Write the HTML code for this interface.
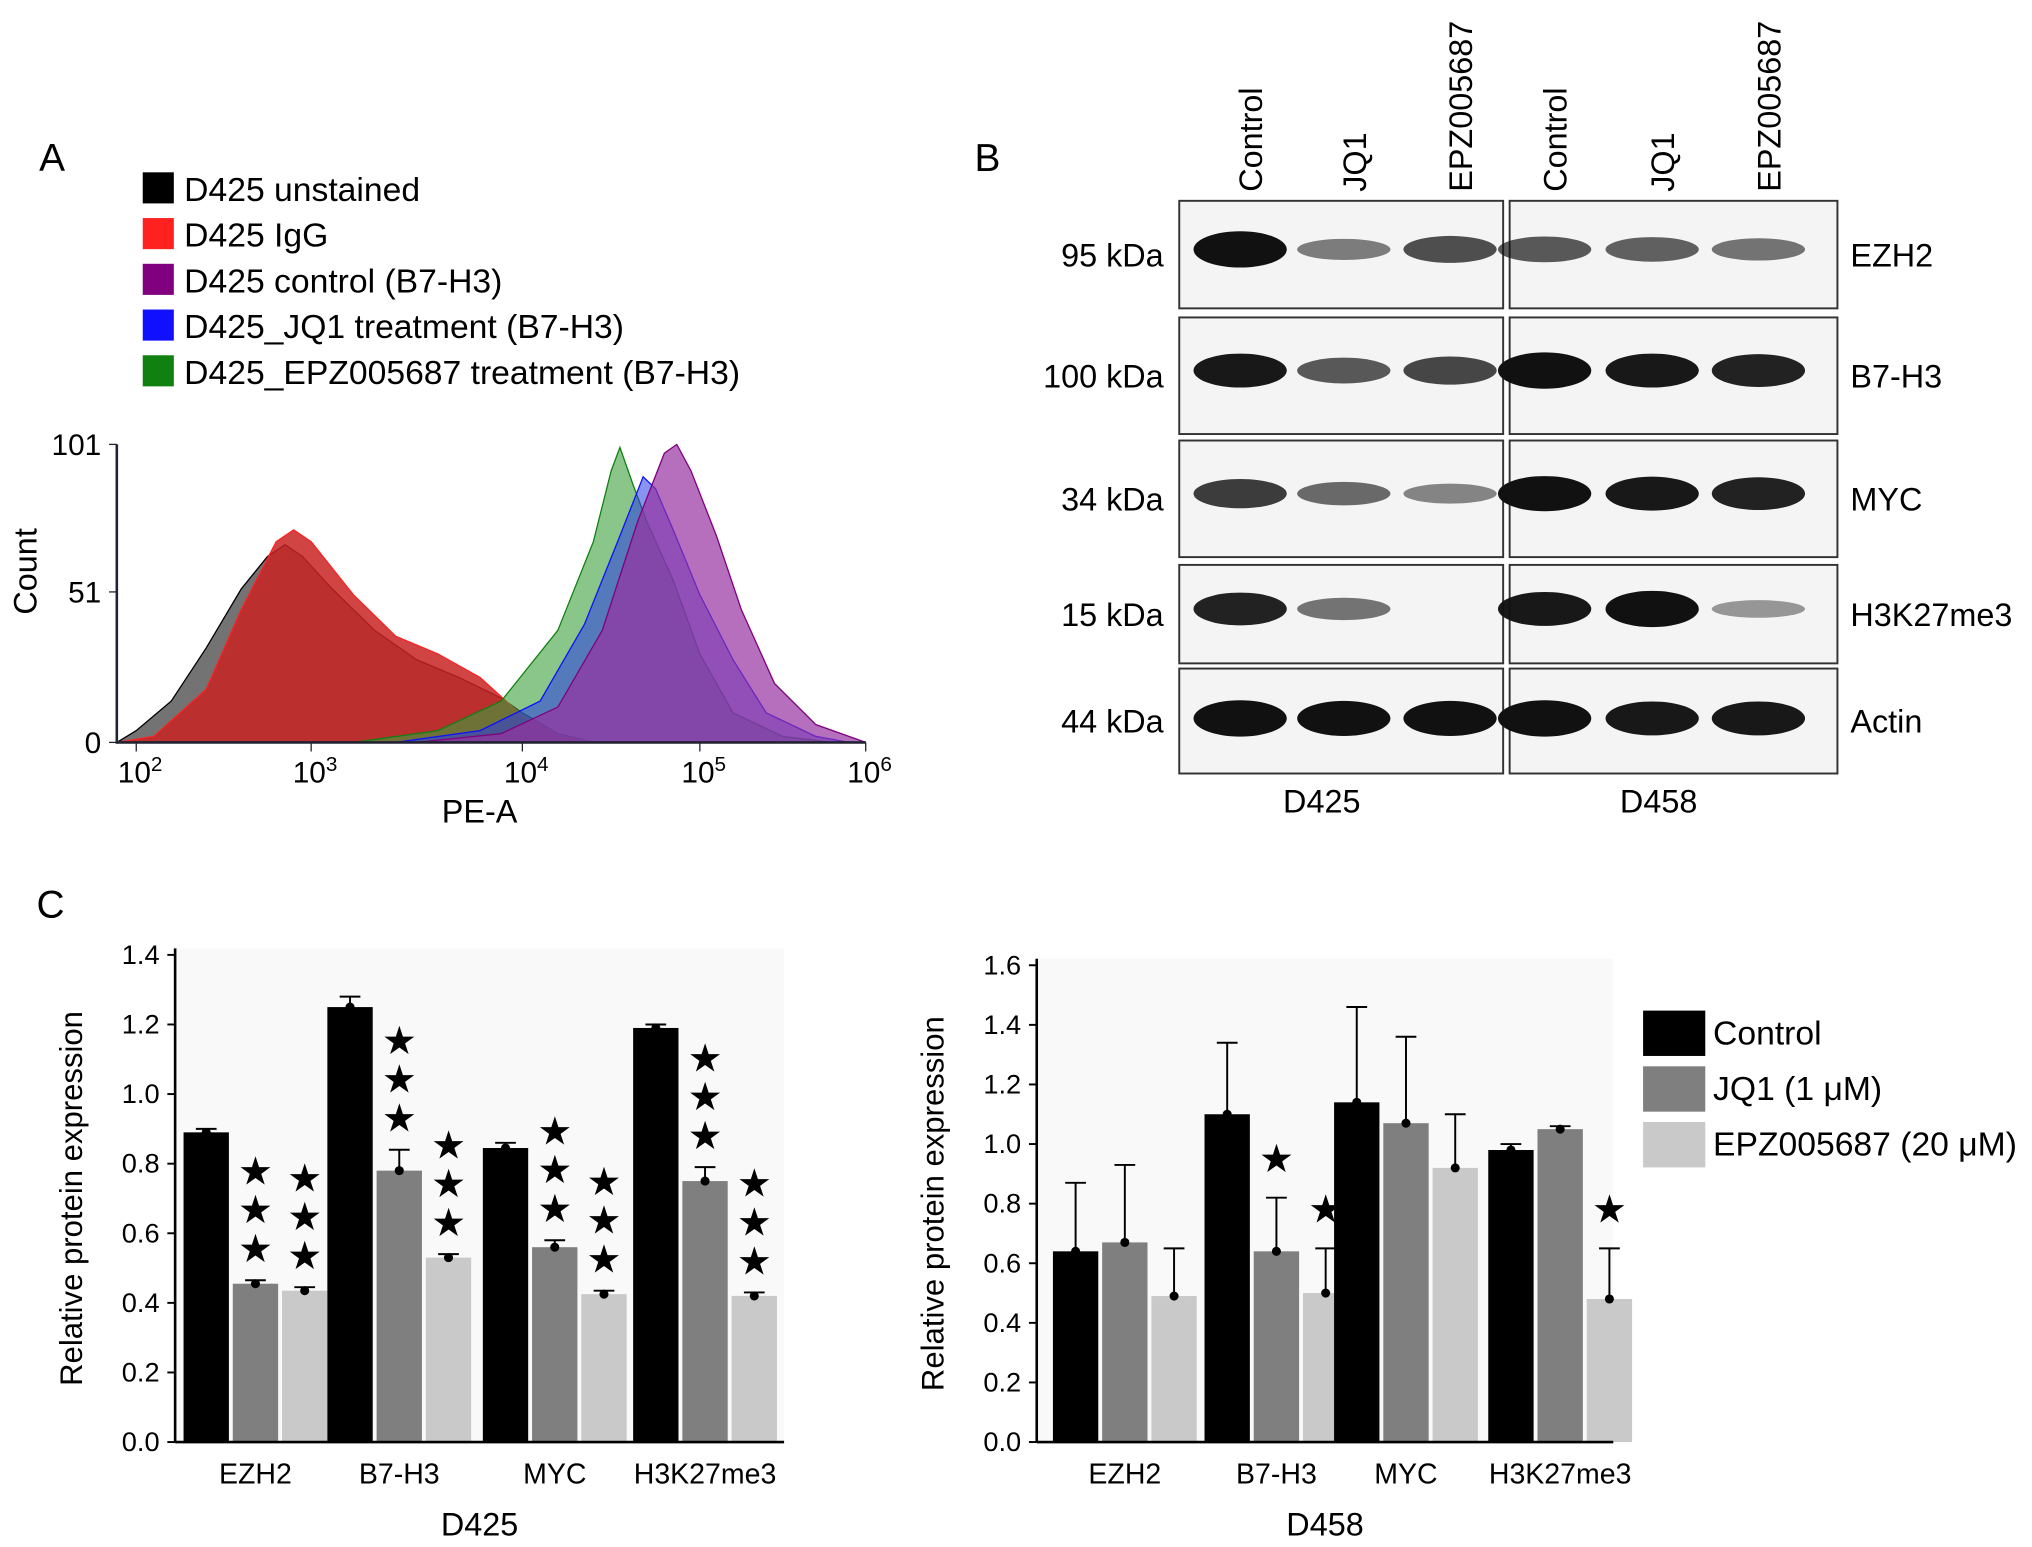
<!DOCTYPE html>
<html><head><meta charset="utf-8"><style>
html,body{margin:0;padding:0;background:#fff;}
svg{display:block;font-family:"Liberation Sans",sans-serif;}
</style></head><body>
<svg id="fig" width="2032" height="1547" viewBox="0 0 1568 1194">
<rect width="1568" height="1194" fill="#fff"/>
<text x="30" y="132" font-size="30">A</text>
<text x="752" y="132" font-size="30">B</text>
<text x="28" y="708" font-size="30">C</text>
<g id="histLegend"></g>
<g id="hist"></g>
<g id="blot"></g>
<g id="barL"></g>
<g id="barR"></g>
</svg>
<script>
const NS="http://www.w3.org/2000/svg";
function mk(p,t,a,txt){const e=document.createElementNS(NS,t);for(const k in a)e.setAttribute(k,a[k]);if(txt!==undefined)e.textContent=txt;p.appendChild(e);return e;}

// ---------- Panel A data ----------
const histNames=["D425 unstained","D425 IgG","D425 control (B7-H3)","D425_JQ1 treatment (B7-H3)","D425_EPZ005687 treatment (B7-H3)"];
const histColors=["#000000","#ff2020","#800080","#1010ff","#108010"];
const histFill=["rgba(100,100,100,0.9)","rgba(200,35,35,0.85)","rgba(150,50,160,0.7)","rgba(40,60,230,0.55)","rgba(60,160,60,0.6)"];
const unstained=[[1.85,0],[2.0,4],[2.2,14],[2.4,32],[2.6,52],[2.75,63],[2.85,67],[2.95,63],[3.1,52],[3.3,38],[3.5,28],[3.7,22],[3.9,15],[4.0,10],[4.2,3],[4.4,0]];
const igg=[[1.85,0],[2.1,2],[2.4,18],[2.6,45],[2.8,68],[2.9,72],[3.0,68],[3.2,50],[3.4,36],[3.6,30],[3.8,22],[4.0,9],[4.2,2],[4.4,0]];
const ctrlB7=[[3.5,0],[3.9,3],[4.2,12],[4.45,38],[4.65,75],[4.8,98],[4.87,101],[4.95,92],[5.1,70],[5.25,45],[5.45,20],[5.7,6],[6.0,0]];
const jq1B7=[[3.4,0],[3.8,4],[4.1,14],[4.35,40],[4.55,70],[4.68,90],[4.75,86],[4.85,72],[5.0,50],[5.2,28],[5.4,10],[5.7,2],[5.9,0]];
const epzB7=[[3.2,0],[3.6,4],[3.9,14],[4.2,38],[4.4,68],[4.5,92],[4.55,100],[4.62,88],[4.7,75],[4.85,55],[5.0,30],[5.2,10],[5.5,2],[5.8,0]];
const histSeries=[unstained,igg,ctrlB7,jq1B7,epzB7];
const histXTicks=[2,3,4,5,6];
const histYTicks=[0,51,101];
const xTickPx=[105,240,403,540,668];
function hx(l){if(l<=2)return 90+(l-1.85)/0.15*15; if(l>=6)return 668;const i=Math.floor(l)-2;return xTickPx[i]+(l-Math.floor(l))*(xTickPx[i+1]-xTickPx[i]);}
function hy(c){return 573-c/101*230;}

const lg=document.getElementById('histLegend');
histNames.forEach((n,i)=>{const y=133+i*35.3;
 const r=mk(lg,'rect',{x:110,y:y,width:24,height:24,fill:histColors[i]});
 
 const t=mk(lg,'text',{x:142,y:y+22,'font-size':26},n);
 });

const h=document.getElementById('hist');
[0,1,4,3,2].forEach(i=>{const s=histSeries[i];let d="M"+hx(s[0][0])+","+hy(0);
 s.forEach(p=>d+=" L"+hx(p[0]).toFixed(1)+","+hy(p[1]).toFixed(1));d+=" L"+hx(s[s.length-1][0])+","+hy(0)+"Z";
 const p=mk(h,'path',{d:d,fill:histFill[i],stroke:histColors[i],'stroke-width':1});
 });
mk(h,'line',{x1:90,y1:343,x2:90,y2:574,stroke:'#223',"stroke-width":2});
mk(h,'line',{x1:90,y1:573,x2:668,y2:573,stroke:'#223',"stroke-width":2});
histYTicks.forEach(v=>{mk(h,'line',{x1:84,x2:90,y1:hy(v),y2:hy(v),stroke:'#223'});
 const t=mk(h,'text',{x:78,y:hy(v)+8,'font-size':23,'text-anchor':'end'},v);});
histXTicks.forEach(v=>{const x=hx(v);mk(h,'line',{x1:x,x2:x,y1:573,y2:580,stroke:'#223'});
 const t=mk(h,'text',{x:x+3,y:604,'font-size':23,'text-anchor':'middle'},'10');mk(t,'tspan',{dy:-9,'font-size':16},v);
 });
mk(h,'text',{x:370,y:635,'font-size':25,'text-anchor':'middle',},'PE-A');
mk(h,'text',{x:0,y:0,'font-size':25,'text-anchor':'middle',transform:'translate(28,441) rotate(-90)',},'Count');

// ---------- Panel B blots ----------
const b=document.getElementById('blot');
const laneLabels=["Control","JQ1","EPZ005687"];
const laneX=[[965,1045,1127],[1200,1283,1365]];
laneX.forEach(arr=>arr.forEach((x,i)=>mk(b,'text',{x:0,y:0,'font-size':25,transform:`translate(${x+9},148) rotate(-90)`,},laneLabels[i])));
const rows=[[155,238,"95 kDa","EZH2"],[245,335,"100 kDa","B7-H3"],[340,430,"34 kDa","MYC"],[436,512,"15 kDa","H3K27me3"],[516,597,"44 kDa","Actin"]];
const bandData=[[[1,.35,.6],[.55,.5,.4]],[[.9,.55,.65],[1,.9,.85]],[[.7,.45,.3],[.95,.9,.85]],[[.85,.4,0.03],[.9,1,.2]],[[1,.95,.95],[1,.9,.9]]];
rows.forEach((r,ri)=>{const [y0,y1,kda,name]=r;
 mk(b,'text',{x:898,y:(y0+y1)/2+9,'font-size':25,'text-anchor':'end',},kda);
 mk(b,'text',{x:1428,y:(y0+y1)/2+9,'font-size':25,},name);
 [[910,1160],[1165,1418]].forEach((c,ci)=>{
  mk(b,'rect',{x:c[0],y:y0,width:c[1]-c[0],height:y1-y0,fill:'#f4f4f4',stroke:'#333','stroke-width':1.5,});
  laneX[ci].forEach((x,li)=>{const v=bandData[ri][ci][li];if(v<0.05)return;
   const e=mk(b,'ellipse',{cx:x-8,cy:(y0+y1)/2-(ri==4?2:4),rx:36,ry:5+v*9,fill:'#111','fill-opacity':Math.min(1,0.25+v*0.8)});
   });});});
mk(b,'text',{x:1020,y:627,'font-size':25,'text-anchor':'middle',},'D425');
mk(b,'text',{x:1280,y:627,'font-size':25,'text-anchor':'middle',},'D458');

// ---------- Panel C data ----------
const categories=["EZH2","B7-H3","MYC","H3K27me3"];
const seriesNames=["Control","JQ1 (1 μM)","EPZ005687 (20 μM)"];
const barColors=["#000000","#7f7f7f","#c9c9c9"];
const d425Control=[0.89,1.25,0.845,1.19];
const d425JQ1=[0.455,0.78,0.56,0.75];
const d425EPZ=[0.435,0.53,0.425,0.42];
const d425Err=[[0.01,0.03,0.015,0.01],[0.01,0.06,0.02,0.04],[0.01,0.01,0.01,0.01]];
const d425Stars=[[0,0,0,0],[3,3,3,3],[3,3,3,3]];
const d458Control=[0.64,1.1,1.14,0.98];
const d458JQ1=[0.67,0.64,1.07,1.05];
const d458EPZ=[0.49,0.5,0.92,0.48];
const d458Err=[[0.23,0.24,0.32,0.02],[0.26,0.18,0.29,0.01],[0.16,0.15,0.18,0.17]];
const d458Stars=[[0,0,0,0],[0,1,0,0],[0,1,0,1]];
const leftTicks=[0,0.2,0.4,0.6,0.8,1.0,1.2,1.4];
const rightTicks=[0,0.2,0.4,0.6,0.8,1.0,1.2,1.4,1.6];

function barChart(g,o){
 const {x0,x1,y0,ymax,yTop,series,errs,stars,ticks,groupX,title}=o;
 const ys=v=>y0-v/ymax*(y0-yTop);
 mk(g,'rect',{x:x0,y:yTop-5,width:x1-x0,height:y0-yTop+5,fill:'#f9f9f9'});
 ticks.forEach(t=>{mk(g,'line',{x1:x0-6,x2:x0,y1:ys(t),y2:ys(t),stroke:'#000','stroke-width':1.5});
  const e=mk(g,'text',{x:x0-12,y:ys(t)+7,'font-size':21,'text-anchor':'end'},t.toFixed(1));
  });
 const bw=35;
 categories.forEach((c,ci)=>{const gx=groupX[ci];
  series.forEach((s,si)=>{const x=gx+(si-1)*(bw+3)-bw/2;const v=s[ci];
   const r=mk(g,'rect',{x:x,y:ys(v),width:bw,height:y0-ys(v),fill:barColors[si]});
   
   const ev=v+errs[si][ci];const cx=x+bw/2;
   mk(g,'line',{x1:cx,x2:cx,y1:ys(v),y2:ys(ev),stroke:'#000','stroke-width':1.5});
   mk(g,'line',{x1:cx-8,x2:cx+8,y1:ys(ev),y2:ys(ev),stroke:'#000','stroke-width':1.5});
   mk(g,'circle',{cx:cx,cy:ys(v),r:3.5,fill:'#000'});
   for(let k=0;k<stars[si][ci];k++){const st=mk(g,'text',{x:cx,y:ys(ev)-14-k*30+ (stars[si][ci]==1?-6:0),'font-size':30,'text-anchor':'middle'},'★');
    }
  });
  const t=mk(g,'text',{x:gx,y:y0+32,'font-size':22,'text-anchor':'middle'},c);
  });
 mk(g,'line',{x1:x0,x2:x0,y1:yTop-5,y2:y0,stroke:'#000','stroke-width':2});
 mk(g,'line',{x1:x0,x2:x1,y1:y0,y2:y0,stroke:'#000','stroke-width':2});
 mk(g,'text',{x:0,y:0,'font-size':24,'text-anchor':'middle',transform:`translate(${x0-72},${(y0+yTop)/2}) rotate(-90)`,},'Relative protein expression');
 mk(g,'text',{x:(x0+x1)/2,y:y0+72,'font-size':25,'text-anchor':'middle',},title);
}
barChart(document.getElementById('barL'),{x0:135,x1:605,y0:1113,ymax:1.4,yTop:737,series:[d425Control,d425JQ1,d425EPZ],errs:d425Err,stars:d425Stars,ticks:leftTicks,groupX:[197,308,428,544],title:'D425'});
barChart(document.getElementById('barR'),{x0:800,x1:1245,y0:1113,ymax:1.6,yTop:745,series:[d458Control,d458JQ1,d458EPZ],errs:d458Err,stars:d458Stars,ticks:rightTicks,groupX:[868,985,1085,1204],title:'D458'});
const R=document.getElementById('barR');
seriesNames.forEach((n,i)=>{const y=780+i*43;
 const r=mk(R,'rect',{x:1268,y:y,width:48,height:35,fill:barColors[i]});
 
 const t=mk(R,'text',{x:1322,y:y+26,'font-size':26},n);
 });
</script>
</body></html>
